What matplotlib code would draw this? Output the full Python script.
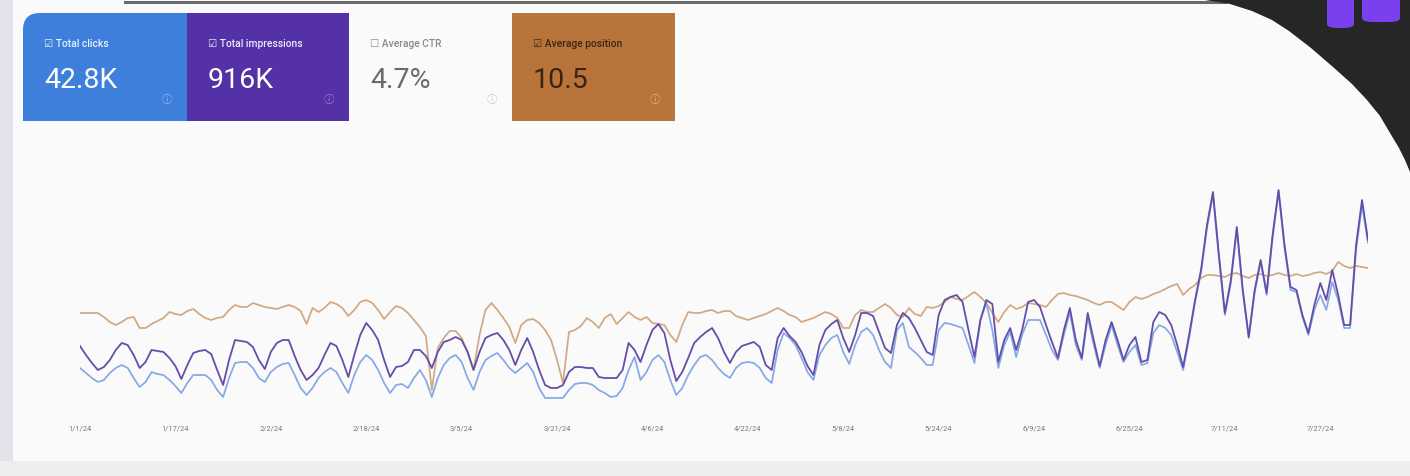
import matplotlib
matplotlib.use('Agg')
import matplotlib.pyplot as plt
import numpy as np
import pandas as pd
from matplotlib.patches import Polygon, FancyBboxPatch, Rectangle

# ---------------- data ----------------
start_date = '2024-01-01'
clicks = [
    184,174,164,156,160,174,184,190,184,164,
    146,156,176,172,170,160,148,134,154,170,
    170,170,160,140,126,164,194,196,196,184,
    164,156,176,186,192,194,170,144,130,144,
    164,176,184,176,154,134,170,196,210,200,
    180,154,134,150,152,144,164,180,160,126,
    164,190,204,210,196,164,140,176,200,208,
    214,200,184,174,184,194,176,144,124,124,
    124,124,140,152,154,154,150,140,134,126,
    128,144,180,206,160,176,200,210,196,160,
    130,144,170,190,206,210,200,184,172,164,
    184,194,196,194,184,164,154,220,254,244,
    230,204,176,160,210,230,244,250,216,192,
    230,256,264,250,220,196,184,260,274,226,
    216,204,190,190,260,274,272,268,264,230,
    194,280,314,260,184,230,256,206,250,280,
    280,280,250,220,200,250,296,230,200,286,
    230,184,230,270,230,196,216,230,190,194,
    254,270,264,250,216,180,244,316,376,464,
    530,404,290,354,460,336,244,336,396,330,
    444,536,424,340,336,286,250,300,330,300,
    356,320,264,264,420,510,434]
impressions = [
    4160,3800,3480,3200,3320,3600,4000,4280,4200,3800,
    3280,3520,4000,3960,3920,3680,3360,2840,3400,3880,
    3960,4000,3840,3200,2600,3600,4400,4360,4320,4120,
    3600,3240,3920,4280,4400,4400,3760,3200,2800,3000,
    3280,3800,4280,4160,3600,2920,3800,4600,5080,4800,
    4400,3600,2920,3320,3360,3520,4000,4000,3760,3280,
    3920,4320,4400,4520,4400,3920,3200,3920,4480,4600,
    4680,4400,4000,3400,4000,4480,3920,3200,2600,2480,
    2480,2600,3120,3320,3320,3280,3280,2920,2880,2880,
    2880,3200,4280,4000,3520,4200,4800,5040,4680,3600,
    2760,3120,3680,4280,4520,4720,4880,4480,3920,3480,
    3920,4160,4240,4320,4120,3400,3200,4480,4880,4560,
    4320,3920,3360,3000,4200,4800,5040,5200,4480,3920,
    4600,5480,5480,5360,4720,4080,3880,5000,5480,5280,
    4880,4400,3920,3800,5400,6000,6120,6200,5920,4800,
    3720,5200,6000,5840,3520,4400,4880,4000,4800,5920,
    6000,5720,5000,4320,3680,4800,5680,4400,3680,5480,
    4400,3360,4400,5120,4400,3600,4200,4520,3520,3600,
    5120,5520,5400,5000,4200,3320,4600,6000,7200,9000,
    10320,7800,5480,6800,8920,6400,4520,6400,7600,6280,
    8600,10400,8200,6520,6400,5400,4680,5800,6680,6000,
    7200,6200,5000,5000,8200,10000,8400]
position = [
    10.65,10.65,10.65,10.65,10.85,11.10,11.25,11.10,10.90,10.85,
    11.40,11.40,11.20,11.05,10.90,10.60,10.70,10.75,10.55,10.45,
    10.70,10.90,11.00,10.90,10.85,10.50,10.25,10.35,10.35,10.15,
    10.25,10.35,10.40,10.45,10.35,10.25,10.35,10.55,11.20,10.40,
    10.60,10.40,10.10,10.20,10.40,10.80,10.50,10.10,10.00,10.15,
    10.50,10.95,10.60,10.30,10.40,10.65,11.00,11.35,11.80,14.50,
    12.40,11.90,11.55,11.55,11.90,12.60,13.50,11.75,10.50,10.15,
    10.50,10.90,11.35,12.15,11.25,11.00,10.95,11.15,11.50,12.00,
    13.00,14.15,11.60,11.50,11.30,10.90,11.10,11.40,10.90,10.70,
    11.20,10.90,10.60,10.85,11.00,10.85,11.15,11.20,11.25,11.75,
    12.10,11.25,10.60,10.65,10.65,10.55,10.50,10.65,10.55,10.55,
    10.80,10.90,11.00,10.90,10.80,10.70,10.55,10.40,10.55,10.75,
    10.85,11.10,11.00,10.90,10.75,10.60,10.70,10.90,11.40,11.40,
    10.75,10.50,10.60,10.60,10.40,10.20,10.40,10.75,10.85,10.40,
    10.70,10.80,10.35,10.40,10.30,10.10,9.85,9.95,10.00,9.80,
    9.60,9.85,10.15,10.65,11.10,10.60,10.25,10.45,10.35,10.15,
    10.20,10.25,10.35,10.00,9.70,9.65,9.75,9.80,9.90,10.00,
    10.15,10.25,10.10,10.10,10.30,10.50,10.10,9.85,9.95,9.85,
    9.70,9.60,9.45,9.30,9.20,9.75,9.45,9.25,8.90,8.75,
    8.75,8.80,8.85,8.70,8.65,8.80,8.90,8.75,8.70,8.80,
    8.75,8.65,8.75,8.80,8.70,8.80,8.75,8.65,8.60,8.70,
    8.55,8.10,8.30,8.40,8.30,8.35,8.40]
tick_labels = ['1/1/24', '1/17/24', '2/2/24', '2/18/24', '3/5/24', '3/21/24', '4/6/24',
               '4/22/24', '5/8/24', '5/24/24', '6/9/24', '6/25/24', '7/11/24', '7/27/24']
card_titles = ['Total clicks', 'Total impressions', 'Average CTR', 'Average position']
card_values = ['42.8K', '916K', '4.7%', '10.5']
card_checked = [True, True, False, True]

dates = pd.date_range(start_date, periods=len(clicks), freq='D')
tick_dates = dates[::16][:len(tick_labels)]

# ---------------- figure ----------------
W, H = 1410, 476
fig = plt.figure(figsize=(W / 100, H / 100), dpi=100)
fig.patch.set_facecolor('#fafafb')


def fx(x):
    return x / W


def fy(y):
    return 1 - y / H


FONT = ['Roboto', 'DejaVu Sans', 'Noto Sans CJK SC']

# side / bottom strips
fig.patches.append(Rectangle((0, 0), fx(13), 1, transform=fig.transFigure,
                             facecolor='#e4e2ea', edgecolor='none', zorder=0))
fig.patches.append(Rectangle((0, 0), 1, (H - 461) / H, transform=fig.transFigure,
                             facecolor='#eeeeef', edgecolor='none', zorder=0))
# top border line
fig.lines.append(plt.Line2D([fx(125), fx(1225)], [fy(1.5), fy(1.5)], transform=fig.transFigure,
                            color='#6a6a6a', lw=2.2, zorder=1))

# dark top-right corner with curved card edge
edge_px = [(1205, 0), (1230, 4), (1252, 11), (1272, 20), (1289, 31), (1311, 48),
           (1333, 67), (1352, 84), (1367, 100), (1380, 116), (1390, 133),
           (1399, 148), (1405, 160), (1410, 172)]
pts = [(fx(x), fy(y)) for x, y in edge_px]
pts += [(fx(1412), fy(172)), (fx(1412), fy(-2)), (fx(1205), fy(-2))]
fig.patches.append(Polygon(pts, closed=True, transform=fig.transFigure,
                           facecolor='#262626', edgecolor='none', zorder=2))
# purple logo
for (x0, y0, x1, y1) in [(1327, -8, 1354, 28), (1362, -8, 1400, 22)]:
    fig.patches.append(FancyBboxPatch((fx(x0), fy(y1)), fx(x1 - x0), (y1 - y0) / H,
                                      boxstyle='round,pad=0,rounding_size=0.008',
                                      transform=fig.transFigure, facecolor='#7a40ee',
                                      edgecolor='none', zorder=3))

# metric cards
cards_x = [(23, 187), (187, 349), (349, 512), (512, 675)]
card_face = ['#3f7fdc', '#5431a6', 'none', '#b8743b']
title_col = ['#e8f0ff', '#efe8ff', '#8a8a8a', '#3a2612']
value_col = ['#ffffff', '#ffffff', '#6a6a6a', '#3a2410']
icon_col = ['#9cbcf0', '#9b86d6', '#c4c4c4', '#e0b890']
for i, (x0, x1) in enumerate(cards_x):
    if card_face[i] != 'none':
        if i == 0:
            # rounded top-left corner, square elsewhere
            fig.patches.append(FancyBboxPatch((fx(x0), fy(121)), fx(x1 - x0), (121 - 13) / H,
                                              boxstyle='round,pad=0,rounding_size=0.012',
                                              mutation_aspect=W / H,
                                              transform=fig.transFigure, facecolor=card_face[i],
                                              edgecolor='none', zorder=1))
            fig.patches.append(Rectangle((fx(x0 + 40), fy(121)), fx(x1 - x0 - 40), (121 - 13) / H,
                                         transform=fig.transFigure, facecolor=card_face[i],
                                         edgecolor='none', zorder=1))
            fig.patches.append(Rectangle((fx(x0), fy(121)), fx(x1 - x0), 20 / H,
                                         transform=fig.transFigure, facecolor=card_face[i],
                                         edgecolor='none', zorder=1))
        else:
            fig.patches.append(Rectangle((fx(x0), fy(121)), fx(x1 - x0), (121 - 13) / H,
                                         transform=fig.transFigure, facecolor=card_face[i],
                                         edgecolor='none', zorder=1))
    box = '\u2611' if card_checked[i] else '\u2610'
    fig.text(fx(x0 + 21), fy(44), box + ' ' + card_titles[i], fontsize=7.4, color=title_col[i],
             family=FONT, fontweight='medium', va='center', ha='left', zorder=5)
    fig.text(fx(x0 + 21), fy(80), card_values[i], fontsize=20.5, color=value_col[i],
             family=FONT, va='center', ha='left', zorder=5)
    fig.text(fx(x1 - 20), fy(100), '\u24D8', fontsize=7.5, color=icon_col[i],
             family=FONT, va='center', ha='center', zorder=5)

# ---------------- chart ----------------
ax = fig.add_axes([fx(80), fy(410), fx(1368) - fx(80), (410 - 170) / H])
ax2 = ax.twinx()
ax3 = ax.twinx()
for a_ in (ax, ax2, ax3):
    a_.patch.set_visible(False)
    for s in a_.spines.values():
        s.set_visible(False)
    a_.set_yticks([])

ax.plot(dates, position, color='#d2a881', lw=1.25, zorder=2)
ax.set_ylim(15.5, 3.5)
ax2.plot(dates, clicks, color='#85a8e6', lw=1.25, zorder=3)
ax2.set_ylim(100, 580)
ax3.plot(dates, impressions, color='#634fa8', lw=1.3, zorder=4)
ax3.set_ylim(1600, 11200)

ax.set_xlim(dates[0], dates[-1])
ax.set_xticks(tick_dates)
ax.set_xticklabels(tick_labels, fontsize=5.4, color='#7a7a7a', family=FONT)
ax.tick_params(axis='x', length=0, pad=11)

fig.savefig('out.png', dpi=100, facecolor=fig.get_facecolor())
